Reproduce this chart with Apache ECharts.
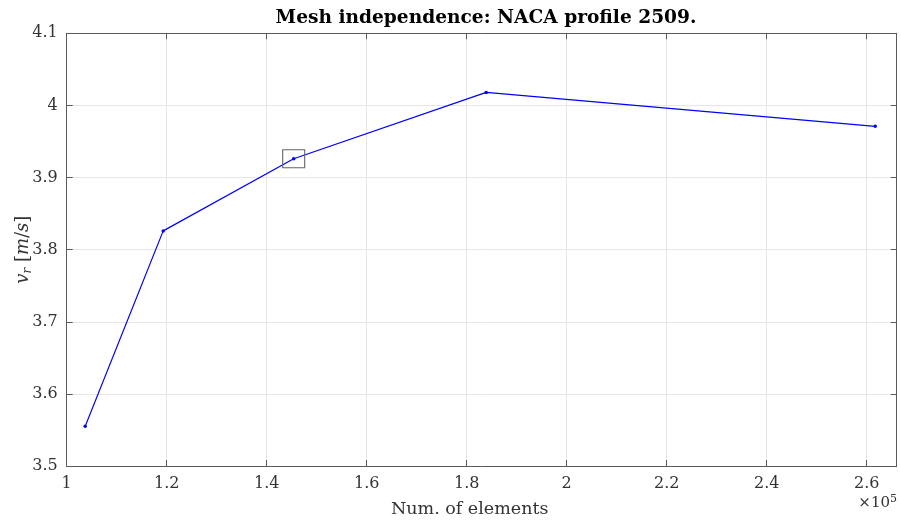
<!DOCTYPE html>
<html>
<head>
<meta charset="utf-8">
<script src="https://cdn.jsdelivr.net/npm/echarts@6/dist/echarts.min.js"></script>
<style>html,body{margin:0;padding:0;background:#fff}#c{width:901px;height:523px}</style>
</head>
<body>
<div id="c"></div>
<script>
// Data (x in units of 1e5 elements)
const numElements = [1.037, 1.193, 1.454, 1.839, 2.617];
const vr = [3.555, 3.826, 3.926, 4.018, 3.971];
const highlightIndex = 2;
const xTicks = [1, 1.2, 1.4, 1.6, 1.8, 2, 2.2, 2.4, 2.6];
const yTicks = [3.5, 3.6, 3.7, 3.8, 3.9, 4, 4.1];

const FONT = '"DejaVu Serif", "Liberation Serif", serif';
const axisColor = '#5a5a5a';
const chart = echarts.init(document.getElementById('c'), null, {renderer: 'canvas'});
const pts = numElements.map((x, i) => [x, vr[i]]);

const common = {
  axisLine: {show: true, lineStyle: {color: axisColor, width: 1}},
  axisTick: {show: true, inside: true, length: 6, lineStyle: {color: axisColor}},
};

chart.setOption({
  animation: false,
  title: {
    text: 'Mesh independence: NACA profile 2509.',
    left: 481, top: 4, textAlign: 'center',
    textStyle: {fontFamily: FONT, fontWeight: 'bold', fontSize: 18.6, color: '#000'}
  },
  grid: {left: 66.7, top: 33.3, right: 4.3, bottom: 57, containLabel: false, outerBoundsMode: 'none'},
  xAxis: [{
    type: 'value', min: 1, max: 2.66, interval: 0.2,
    ...common,
    splitLine: {show: true, lineStyle: {color: '#e6e6e6', width: 1}},
    axisLabel: {fontFamily: FONT, fontSize: 16, color: '#333', margin: 10,
      formatter: v => { const r = Math.round(v * 10) / 10; return xTicks.includes(r) ? String(r) : ''; }},
    name: 'Num. of elements', nameLocation: 'middle', nameGap: 34,
    nameTextStyle: {fontFamily: FONT, fontSize: 17.5, color: '#333', padding: [0, 24, 0, 0]}
  }, {
    type: 'value', position: 'top', min: 1, max: 2.66, interval: 0.2,
    ...common, axisLabel: {show: false}, splitLine: {show: false}
  }],
  yAxis: [{
    type: 'value', min: 3.5, max: 4.1, interval: 0.1,
    ...common,
    splitLine: {show: true, lineStyle: {color: '#e6e6e6', width: 1}},
    axisLabel: {fontFamily: FONT, fontSize: 16, color: '#333', margin: 9,
      formatter: v => { const r = Math.round(v * 10) / 10; return yTicks.includes(r) ? String(r) : ''; }},
    name: '{i|v}{s|r} {n|[}{i|m}{n|/}{i|s}{n|]}', nameLocation: 'middle', nameGap: 33, nameRotate: 90,
    nameMoveOverlap: false,
    nameTextStyle: {
      fontFamily: FONT, fontSize: 18, color: '#333',
      rich: {
        i: {fontFamily: FONT, fontStyle: 'italic', fontSize: 18, color: '#333'},
        s: {fontFamily: FONT, fontStyle: 'italic', fontSize: 12, color: '#333', verticalAlign: 'bottom', padding: [8, 0, 0, 0]},
        n: {fontFamily: FONT, fontSize: 18, color: '#333'}
      }
    }
  }, {
    type: 'value', position: 'right', min: 3.5, max: 4.1, interval: 0.1,
    ...common, axisLabel: {show: false}, splitLine: {show: false}
  }],
  graphic: [{
    type: 'text', right: 4, top: 494,
    style: {
      text: '{a|×10}{b|5}', fill: '#333',
      rich: {
        a: {fontFamily: FONT, fontSize: 15, fill: '#333'},
        b: {fontFamily: FONT, fontSize: 11, fill: '#333', verticalAlign: 'top', padding: [0, 0, 8, 0]}
      }
    }
  }],
  series: [{
    type: 'line', data: pts, xAxisIndex: 0, yAxisIndex: 0,
    lineStyle: {color: '#0000ff', width: 1.2},
    itemStyle: {color: '#0000ff'},
    symbol: 'circle', symbolSize: 3.5, showSymbol: true,
    markPoint: {
      symbol: 'rect', symbolSize: [22, 18], silent: true,
      itemStyle: {color: 'rgba(0,0,0,0)', borderColor: '#666', borderWidth: 1},
      label: {show: false},
      data: [{coord: pts[highlightIndex]}]
    }
  }]
});
</script>
</body>
</html>
